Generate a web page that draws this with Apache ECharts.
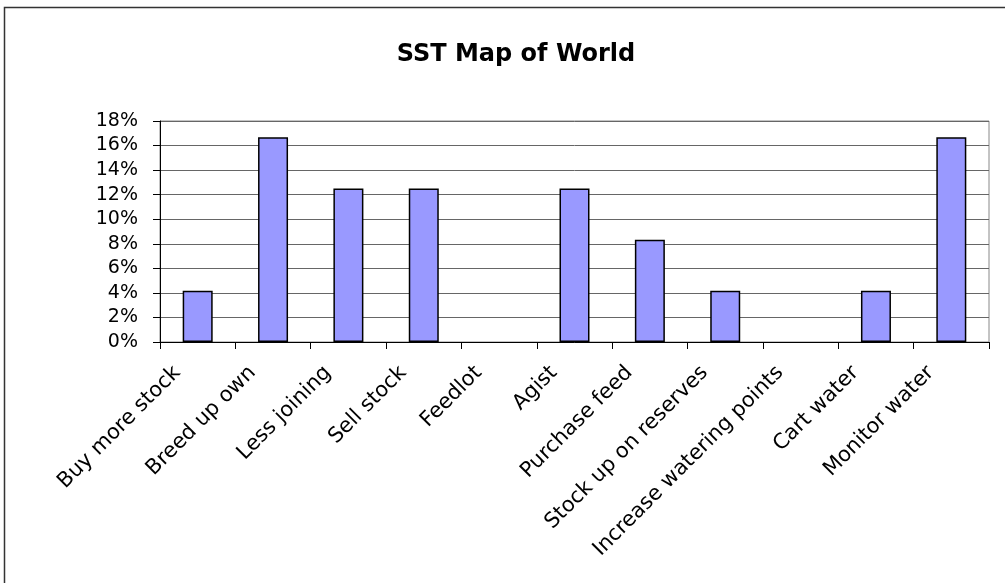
<!DOCTYPE html>
<html>
<head>
<meta charset="utf-8">
<script src="https://cdn.jsdelivr.net/npm/echarts@6/dist/echarts.min.js"></script>
<style>
  html, body { margin: 0; padding: 0; background: #fff; }
  #chart { width: 1005px; height: 583px; }
</style>
</head>
<body>
<div id="chart"></div>
<script>
// Drought responses and the share of respondents choosing each
const categories = [
  'Buy more stock', 'Breed up own', 'Less joining', 'Sell stock', 'Feedlot',
  'Agist', 'Purchase feed', 'Stock up on reserves', 'Increase watering points',
  'Cart water', 'Monitor water'
];
const shares = [0.0417, 0.1667, 0.125, 0.125, 0, 0.125, 0.0833, 0.0417, 0, 0.0417, 0.1667];
const titleText = 'SST Map of World';
const yMin = 0, yMax = 0.18, yStep = 0.02;

const chart = echarts.init(document.getElementById('chart'), null, { renderer: 'canvas' });

// Empty categories get no outline so nothing is drawn on the baseline
const barData = shares.map(v => v === 0
  ? { value: v, itemStyle: { borderWidth: 0, opacity: 0 } }
  : v);

chart.setOption({
  animation: false,
  backgroundColor: '#ffffff',
  title: {
    text: titleText,
    left: 511,
    textAlign: 'center',
    top: 38,
    textStyle: { fontFamily: 'DejaVu Sans', fontWeight: 'bold', fontSize: 24, color: '#000' }
  },
  graphic: [
    {
      type: 'polyline',
      shape: { points: [[4.5, 600], [4.5, 7.5], [1010, 7.5]] },
      style: { fill: null, stroke: '#333', lineWidth: 1.5 },
      silent: true
    }
  ],
  grid: {
    left: 160, right: 16, top: 121, bottom: 241,
    show: true, borderColor: '#888', borderWidth: 1, backgroundColor: 'transparent'
  },
  xAxis: {
    type: 'category',
    data: categories,
    boundaryGap: true,
    axisLine: { lineStyle: { color: '#000', width: 1 } },
    axisTick: { show: true, length: 7, lineStyle: { color: '#000' } },
    axisLabel: {
      interval: 0,
      rotate: 45,
      margin: 7,
      padding: [0, 29, 0, 0],
      fontFamily: 'DejaVu Sans',
      fontSize: 21,
      color: '#000'
    },
    splitLine: { show: false }
  },
  yAxis: {
    type: 'value',
    min: yMin, max: yMax, interval: yStep,
    axisLine: { show: true, lineStyle: { color: '#000', width: 1 } },
    axisTick: { show: true, length: 7, lineStyle: { color: '#000' } },
    axisLabel: {
      margin: 22,
      fontFamily: 'DejaVu Sans',
      fontSize: 19,
      color: '#000',
      formatter: v => Math.round(v * 100) + '%'
    },
    splitLine: { show: true, lineStyle: { color: '#666', width: 1 } }
  },
  series: [{
    type: 'bar',
    data: barData,
    barWidth: 30,
    itemStyle: { color: '#9999ff', borderColor: '#000', borderWidth: 1.5 }
  }]
});
</script>
</body>
</html>
